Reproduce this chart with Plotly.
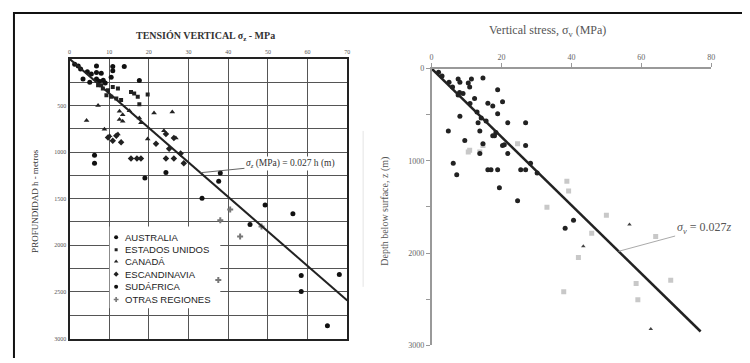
import plotly.graph_objects as go

# ---------------- data ----------------
# left panel (Spanish): vertical stress (MPa) vs depth (m), by region
aus_s = [1.3, 2.2, 6.8, 10.9, 13.8, 10.9, 5.5, 6.8, 8.0, 10.5, 3.4, 5.1, 6.8, 17.6, 2.8, 4.5, 7.5, 9.0, 8.5]
aus_h = [60, 77, 77, 84, 84, 129, 164, 146, 154, 199, 216, 251, 216, 233, 110, 140, 240, 260, 230]
usa_s = [7.2, 8.0, 8.4, 9.7, 10.9, 12.2, 15.5, 16.3, 19.7, 9.3, 10.5, 11.8, 13.0, 17.2, 17.6]
usa_h = [285, 285, 320, 337, 303, 320, 355, 373, 383, 390, 408, 425, 442, 408, 488]
can_s = [7.2, 12.6, 13.4, 15.1, 21.3, 25.9, 4.3, 12.6, 13.4, 17.6, 18.0, 8.8, 12.2, 10.1, 23.8, 26.8, 19.7]
can_h = [502, 564, 599, 557, 582, 572, 662, 651, 669, 634, 686, 756, 808, 825, 773, 850, 860]
sca_s = [11.8, 13.0, 9.7, 10.9, 21.8, 24.3, 26.3, 25.1, 28.0, 28.8, 26.3, 24.3, 15.5, 17.0, 18.0]
sca_h = [825, 895, 843, 878, 912, 808, 850, 965, 1017, 1121, 1069, 1069, 1069, 1069, 1069]
saf_s = [6.3, 6.3, 24.3, 19.0, 38.0, 37.6, 33.4, 56.3, 45.5, 58.4, 68.0, 58.4, 65.0, 49.3]
saf_h = [1034, 1121, 1219, 1278, 1226, 1313, 1497, 1661, 1777, 2323, 2313, 2497, 2863, 1567]
oth_s = [40.5, 38.0, 48.4, 43.0, 37.5]
oth_h = [1616, 1731, 1800, 1905, 2372]
region_names = ["AUSTRALIA", "ESTADOS UNIDOS", "CANADÁ", "ESCANDINAVIA", "SUDÁFRICA", "OTRAS REGIONES"]

# right panel (English)
blk_s = [2, 3, 5, 6, 8, 11, 13, 7.6, 8.1, 10.5, 11.4, 14.7, 10.9, 18.9, 7.6, 9.0, 12.3, 16.1, 17.5, 20.3,
         8.1, 18.9, 14.2, 13.3, 15.6, 21.8, 4.8, 13.8, 18.4, 18.0, 9.5, 14.7, 20.8, 26.9, 13.8, 17.5,
         20.3, 21.8, 26.9, 28.3, 6.2, 7.2, 16.1, 17.0, 18.9, 25.5, 26.9, 30.2, 19.4, 24.6, 40.6, 38.2]
blk_h = [40, 80, 150, 200, 260, 380, 470, 113, 148, 158, 113, 102, 200, 229, 288, 271, 324, 377, 405, 359,
         517, 489, 535, 588, 570, 588, 676, 676, 694, 729, 781, 816, 827, 588, 922, 729,
         834, 922, 834, 1027, 1027, 1151, 1098, 1098, 1098, 1098, 1098, 1133, 1291, 1433, 1644, 1732]
gry_s = [13.8, 10.9, 14.7, 24.6, 38.7, 39.2, 33.0, 50.0, 64.1, 45.8, 37.8, 58.5, 59.0, 68.4, 42.0, 10.5]
gry_h = [905, 887, 834, 816, 1222, 1327, 1503, 1591, 1820, 1785, 2418, 2330, 2506, 2295, 2049, 905]
tri_s = [43.4, 62.7, 56.6]
tri_h = [1925, 2823, 1690]

coef = 0.027
left_line_h = [0, 2593]
right_line_h = [0, 2850]

left_xticks = [0, 10, 20, 30, 40, 50, 60, 70]
left_yticks = list(range(0, 3001, 250))
left_ytext = ['' if (v % 500 or v == 0) else str(v) for v in left_yticks]
right_xticks = [0, 20, 40, 60, 80]
right_yticks = [0, 500, 1000, 1500, 2000, 2500, 3000]
right_ytext = ['0', '', '1000', '', '2000', '', '3000']

SERIF = "Liberation Serif"
SANS = "Liberation Sans"

# page has an 8px body margin: figure is drawn at offset (8, 8)
W, H = 742, 355
def ax_(x): return (x - 8) / W          # absolute screen x -> paper
def ay_(y): return 1 - (y - 8) / H      # absolute screen y -> paper

# left axis scale helpers (screen px -> data), used for the hand-made legend
L_X0, L_X1, L_Y0, L_Y1 = 68, 348, 56, 343
def lsig(x): return (x - L_X0) / (L_X1 - L_X0) * 70
def ldep(y): return (y - L_Y0) / (L_Y1 - L_Y0) * 3000

fig = go.Figure()

styles = [
    ("circle", 5, "#111"),
    ("square", 4, "#222"),
    ("triangle-up", 5, "#222"),
    ("diamond", 5, "#222"),
    ("circle", 5, "#111"),
    ("cross", 5, "#777"),
]
for name, s, h, (sym, size, col) in zip(region_names, [aus_s, usa_s, can_s, sca_s, saf_s, oth_s],
                                       [aus_h, usa_h, can_h, sca_h, saf_h, oth_h], styles):
    fig.add_trace(go.Scatter(x=s, y=h, mode="markers", name=name, showlegend=False,
                             marker=dict(symbol=sym, size=size, color=col),
                             xaxis="x", yaxis="y"))

fig.add_trace(go.Scatter(x=[coef * v for v in left_line_h], y=left_line_h, mode="lines",
                         line=dict(color="#222", width=2), showlegend=False,
                         xaxis="x", yaxis="y"))

# hand-made compact legend (white box over grid, keys + labels)
leg_x = 115
leg_rows = [239, 252, 264, 277, 290, 303]
fig.add_shape(type="rect", xref="x", yref="y", layer="between",
              x0=lsig(108.5), x1=lsig(220), y0=ldep(228), y1=ldep(312),
              fillcolor="white", line=dict(width=0))
for (sym, size, col), ry, name in zip(styles, leg_rows, region_names):
    fig.add_trace(go.Scatter(x=[lsig(leg_x)], y=[ldep(ry)], mode="markers", showlegend=False,
                             hoverinfo="skip", marker=dict(symbol=sym, size=size - 1, color=col),
                             xaxis="x", yaxis="y"))
    fig.add_annotation(x=ax_(122), y=ay_(ry), xref="paper", yref="paper", showarrow=False,
                       xanchor="left", yanchor="middle", text=name,
                       font=dict(family=SANS, size=9.5, color="#222"))

# right panel
fig.add_trace(go.Scatter(x=gry_s, y=gry_h, mode="markers", showlegend=False,
                         marker=dict(symbol="square", size=5, color="#c8c8c8"),
                         xaxis="x2", yaxis="y2"))
fig.add_trace(go.Scatter(x=blk_s, y=blk_h, mode="markers", showlegend=False,
                         marker=dict(symbol="circle", size=5, color="#222"),
                         xaxis="x2", yaxis="y2"))
fig.add_trace(go.Scatter(x=tri_s, y=tri_h, mode="markers", showlegend=False,
                         marker=dict(symbol="triangle-up", size=4, color="#444"),
                         xaxis="x2", yaxis="y2"))
fig.add_trace(go.Scatter(x=[coef * v for v in right_line_h], y=right_line_h, mode="lines",
                         line=dict(color="#222", width=2.5), showlegend=False,
                         xaxis="x2", yaxis="y2"))

fig.update_layout(
    width=W, height=H, margin=dict(l=0, r=0, t=0, b=0),
    paper_bgcolor="white", plot_bgcolor="white",
    font=dict(family=SERIF, color="#333"),
    showlegend=False,
    xaxis=dict(domain=[ax_(L_X0), ax_(L_X1)], range=[0, 70], side="top", anchor="y",
               tickvals=left_xticks, ticktext=[str(v) for v in left_xticks],
               tickfont=dict(size=6, color="#555"), ticks="",
               showgrid=True, gridcolor="#555", gridwidth=1, zeroline=False,
               showline=True, mirror=True, linecolor="#222", linewidth=2),
    yaxis=dict(domain=[ay_(L_Y1), ay_(L_Y0)], range=[3000, 0], anchor="x",
               tickvals=left_yticks, ticktext=left_ytext,
               tickfont=dict(size=6, color="#555"), ticks="",
               showgrid=True, gridcolor="#555", gridwidth=1, zeroline=False,
               showline=True, mirror=True, linecolor="#222", linewidth=2),
    xaxis2=dict(domain=[ax_(433), ax_(715)], range=[0, 80], side="top", anchor="y2",
                tickvals=right_xticks, ticktext=[str(v) for v in right_xticks],
                tickfont=dict(size=8, color="#666"), ticks="outside", ticklen=4,
                tickcolor="#999", showgrid=False, zeroline=False,
                showline=True, linecolor="#999", linewidth=1.5),
    yaxis2=dict(domain=[ay_(350), ay_(66)], range=[3000, 0], anchor="x2",
                tickvals=right_yticks, ticktext=right_ytext,
                tickfont=dict(size=8, color="#666"), ticks="outside", ticklen=4,
                tickcolor="#999", showgrid=False, zeroline=False,
                showline=True, linecolor="#999", linewidth=1.5),
)

fig.add_annotation(x=ax_(205), y=ay_(33), xref="paper", yref="paper", showarrow=False,
                   xanchor="center", yanchor="middle",
                   text="<b>TENSIÓN VERTICAL σ<sub>z</sub> - MPa</b>",
                   font=dict(family=SERIF, size=10, color="#333"))
fig.add_annotation(x=ax_(33), y=ay_(202), xref="paper", yref="paper", showarrow=False,
                   xanchor="center", yanchor="middle",
                   text="PROFUNDIDAD h - metros", textangle=-90,
                   font=dict(family=SERIF, size=9, color="#333"))
fig.add_annotation(x=ax_(550), y=ay_(28), xref="paper", yref="paper", showarrow=False,
                   xanchor="center", yanchor="middle",
                   text="Vertical stress, σ<sub>v</sub> (MPa)",
                   font=dict(family=SERIF, size=12, color="#555"))
fig.add_annotation(x=ax_(386), y=ay_(212), xref="paper", yref="paper", showarrow=False,
                   xanchor="center", yanchor="middle",
                   text="Depth below surface, z (m)", textangle=-90,
                   font=dict(family=SERIF, size=10, color="#555"))

fig.add_annotation(x=33, y=1222, xref="x", yref="y", ax=90, ay=-9,
                   text="<i>σ<sub>z</sub></i> (MPa) = 0.027 h (m)", showarrow=True,
                   arrowhead=0, arrowwidth=1, arrowcolor="#666",
                   font=dict(family=SERIF, size=9.5, color="#333"), bgcolor="white")
fig.add_annotation(x=53.5, y=1981, xref="x2", yref="y2", ax=85, ay=-23,
                   text="<i>σ<sub>v</sub></i> = 0.027<i>z</i>", showarrow=True,
                   arrowhead=0, arrowwidth=1, arrowcolor="#aaa",
                   font=dict(family=SERIF, size=12, color="#555"))

# outer frame (top and left edges) and faint separator
fig.add_shape(type="line", xref="paper", yref="paper", x0=ax_(12), x1=1, y0=ay_(9), y1=ay_(9),
              line=dict(color="#111", width=2))
fig.add_shape(type="line", xref="paper", yref="paper", x0=ax_(12), x1=ax_(12), y0=ay_(8), y1=0,
              line=dict(color="#111", width=2))
fig.add_shape(type="line", xref="paper", yref="paper", x0=ax_(364), x1=ax_(364), y0=ay_(130), y1=ay_(290),
              line=dict(color="#e4e4e4", width=1))

fig.write_html("out.html")
